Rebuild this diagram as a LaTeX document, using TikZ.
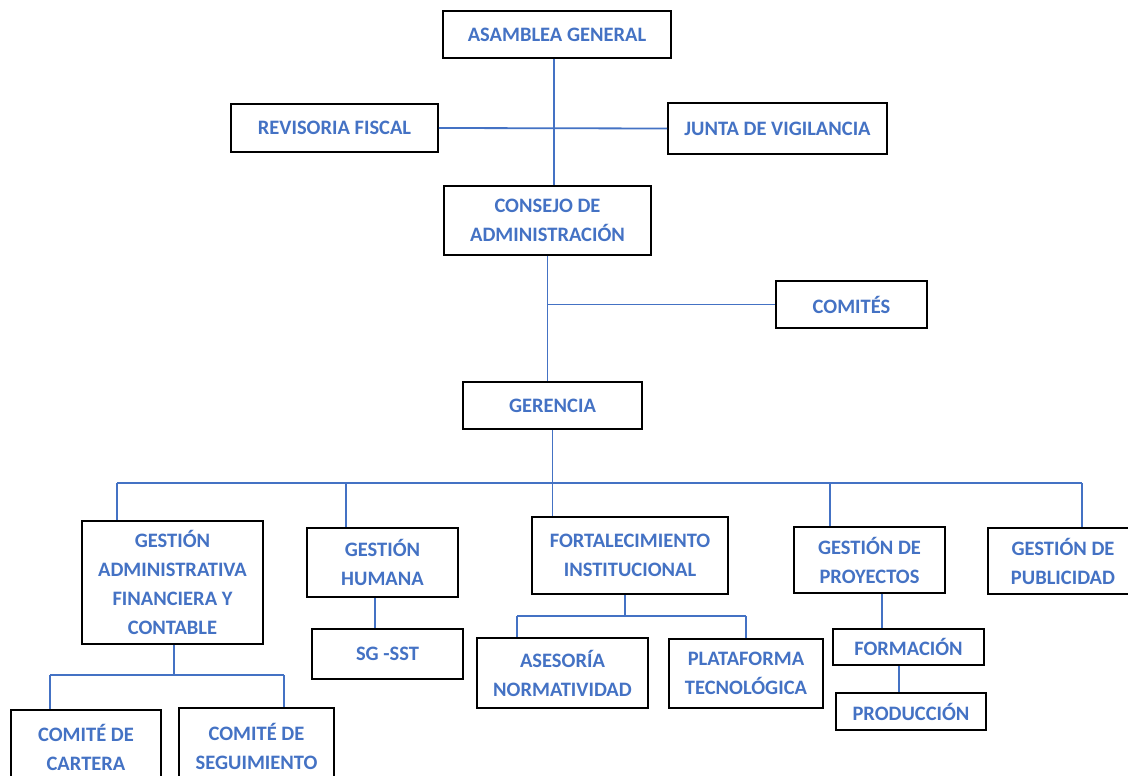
\documentclass[tikz,border=0pt]{standalone}
\usepackage{fontspec}
\setmainfont{Carlito}
\definecolor{txtblue}{HTML}{4472C4}
\definecolor{lineblue}{HTML}{4472C4}
\begin{document}
\begin{tikzpicture}[x=1pt,y=-1pt,
  box/.style={draw=black, line width=1.8pt, rectangle, inner sep=0pt, align=center,
    text=txtblue, font=\fontsize{20.5}{29}\selectfont\bfseries},
  conn/.style={draw=lineblue, line width=1.8pt}]
\clip (0,0) rectangle (1128,776);
\fill[white] (0,0) rectangle (1128,776);
% nodes
\node[box, minimum width=228pt, minimum height=47pt] (asamblea) at (557,34.5) {ASAMBLEA GENERAL};
\node[box, minimum width=207pt, minimum height=48pt] (revisoria) at (334.5,128) {REVISORIA FISCAL};
\node[box, minimum width=219pt, minimum height=51pt] (junta) at (777.5,128.5) {JUNTA DE VIGILANCIA};
\node[box, minimum width=207pt, minimum height=69pt] (consejo) at (547.5,220.5) {CONSEJO DE\\ADMINISTRACIÓN};
\node[box, minimum width=151pt, minimum height=47pt] (comites) at (851.5,304.5) {COMITÉS};
\node[box, minimum width=179pt, minimum height=47pt] (gerencia) at (552.5,405.5) {GERENCIA};
\node[box, minimum width=181pt, minimum height=123pt] (gadm) at (172.5,582.5) {GESTIÓN\\ADMINISTRATIVA\\FINANCIERA Y\\CONTABLE};
\node[box, minimum width=151pt, minimum height=69pt] (ghum) at (382.5,562.5) {GESTIÓN\\HUMANA};
\node[box, minimum width=151pt, minimum height=50pt] (sgsst) at (387.5,654) {SG -SST};
\node[box, minimum width=150pt, minimum height=74pt] (cartera) at (86,747) {COMITÉ DE\\CARTERA};
\node[box, minimum width=155pt, minimum height=76pt] (seguimiento) at (256.5,746) {COMITÉ DE\\SEGUIMIENTO};
\node[box, minimum width=196pt, minimum height=77pt] (fort) at (630,555.5) {FORTALECIMIENTO\\INSTITUCIONAL};
\node[box, minimum width=171pt, minimum height=70pt] (asesoria) at (562.5,673) {ASESORÍA\\NORMATIVIDAD};
\node[box, minimum width=154pt, minimum height=69pt] (plataforma) at (746,673.5) {PLATAFORMA\\TECNOLÓGICA};
\node[box, minimum width=151pt, minimum height=66pt] (proyectos) at (869.5,560) {GESTIÓN DE\\PROYECTOS};
\node[box, minimum width=150pt, minimum height=66pt] (publicidad) at (1063,561) {GESTIÓN DE\\PUBLICIDAD};
\node[box, minimum width=151pt, minimum height=36pt] (formacion) at (908.5,647) {FORMACIÓN};
\node[box, minimum width=150pt, minimum height=37pt] (produccion) at (911,711.5) {PRODUCCIÓN};
% connector coordinates
\coordinate (b1) at (117,483);
\coordinate (b2) at (346,483);
\coordinate (b3) at (830,483);
\coordinate (b4) at (1082,483);
\coordinate (g1) at (50,675);
\coordinate (g2) at (284,675);
\coordinate (f1) at (517,616);
\coordinate (f2) at (746,616);
% connectors
\draw[conn] ([xshift=-3pt]asamblea.south) -- ([xshift=6.5pt]consejo.north);
\draw[conn] (revisoria.east) -- (junta.west);
\draw[conn] (consejo.south) -- (consejo.south |- gerencia.north);
\draw[conn] (comites.west) -- (comites.west -| consejo.south);
\draw[conn] (gerencia.south) -- (gerencia.south |- fort.north);
\draw[conn] (b1) -- (b4);
\draw[conn] (b1) -- (b1 |- gadm.north);
\draw[conn] (b2) -- (b2 |- ghum.north);
\draw[conn] (b3) -- (b3 |- proyectos.north);
\draw[conn] (b4) -- (b4 |- publicidad.north);
\draw[conn] ([xshift=1.5pt]gadm.south) -- ([xshift=1.5pt]gadm.south |- g1);
\draw[conn] (g1) -- (g2);
\draw[conn] (g1) -- (g1 |- cartera.north);
\draw[conn] (g2) -- (g2 |- seguimiento.north);
\draw[conn] ([xshift=-7.5pt]ghum.south) -- ([xshift=-7.5pt]ghum.south |- sgsst.north);
\draw[conn] ([xshift=-5pt]fort.south) -- ([xshift=-5pt]fort.south |- f1);
\draw[conn] (f1) -- (f2);
\draw[conn] (f1) -- (f1 |- asesoria.north);
\draw[conn] (f2) -- (plataforma.north);
\draw[conn] ([xshift=12.5pt]proyectos.south) -- ([xshift=12.5pt]proyectos.south |- formacion.north);
\draw[conn] ([xshift=-9.5pt]formacion.south) -- ([xshift=-9.5pt]formacion.south |- produccion.north);
\end{tikzpicture}
\end{document}
